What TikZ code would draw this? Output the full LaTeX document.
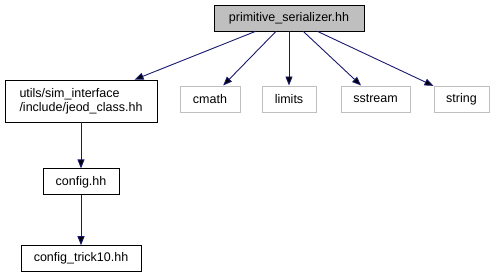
\documentclass[tikz,border=0pt]{standalone}
\usepackage{fontspec}
\setmainfont{Liberation Sans}
\usetikzlibrary{arrows.meta,positioning}

\definecolor{edgeblue}{HTML}{191970}
\definecolor{boxgray}{HTML}{BFBFBF}

\begin{document}
\begin{tikzpicture}[x=1pt, y=-1pt, node distance=46pt,
    >={Triangle[length=9pt,width=7pt]},
    every node/.append style={font=\fontsize{12.5}{14}\selectfont, minimum height=26pt, inner sep=3pt},
    file/.style={draw=black, line width=0.8pt, fill=white},
    sysfile/.style={draw=boxgray, line width=1pt, fill=white},
    dep/.style={->, draw=edgeblue, line width=0.9pt}]
    \useasboundingbox (0,0) rectangle (495,276);

   \node [file, fill=boxgray, minimum width=150pt] (ser) at (289,18) {primitive\_serializer.hh};
   \node [file, minimum width=152pt, minimum height=42pt, align=left] (jeod) at (81,101)
        {utils/sim\_interface\\/include/jeod\_class.hh};
   \node [sysfile, minimum width=60pt] (cmath) at (210,99) {cmath};
   \node [sysfile, minimum width=54pt] (limits) at (289,99) {limits};
   \node [sysfile, minimum width=69pt] (sstream) at (375.5,99) {sstream};
   \node [sysfile, minimum width=55pt] (string) at (461.5,99) {string};
   \node [file, minimum width=76pt, below=46pt of jeod] (config) {config.hh};
   \node [file, minimum width=120pt, below=50pt of config] (trick) {config\_trick10.hh};

   \path[dep] (ser) edge (jeod)
   (ser) edge (cmath)
   (ser) edge (limits)
   (ser) edge (sstream)
   (ser) edge (string)
   (jeod) edge (config)
   (config) edge (trick);
\end{tikzpicture}
\end{document}
